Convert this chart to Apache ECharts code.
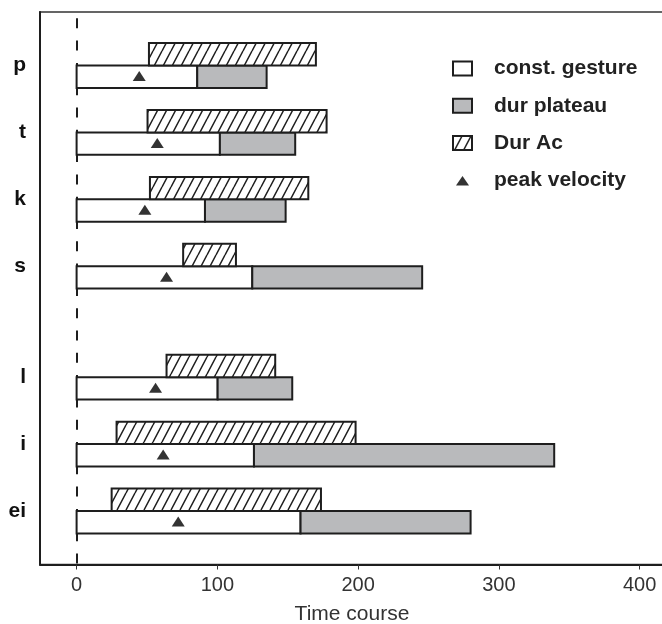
<!DOCTYPE html>
<html><head><meta charset="utf-8">
<script src="https://cdn.jsdelivr.net/npm/echarts@6/dist/echarts.min.js"></script>
<style>html,body{margin:0;padding:0;background:#fff}#c{width:662px;height:624px}</style>
</head><body><div id="c"></div>
<script>
// ---- data ----
const categories = ['p', 't', 'k', 's', 'l', 'i', 'ei'];
const rowPos     = [0, 1, 2, 3, 4.66, 5.66, 6.66];
const gestureEnd = [85.7, 101.8, 91.2, 124.8, 100.2, 126.0, 159.1];
const plateauEnd = [135.0, 155.3, 148.5, 245.5, 153.2, 339.3, 279.9];
const acStart    = [51.4, 50.4, 52.1, 75.7, 63.9, 28.4, 24.9];
const acEnd      = [170.0, 177.6, 164.6, 113.2, 141.1, 198.2, 173.6];
const peakVel    = [44.5, 57.3, 48.5, 63.9, 56.1, 61.5, 72.2];
const xTicks     = [0, 100, 200, 300, 400];
const seriesNames = ['const. gesture', 'dur plateau', 'Dur Ac', 'peak velocity'];

// ---- styles ----
const BAR_H = 0.335;
const INK = '#1e1e1e';
const GRAY = '#b9babc';
const FONT = '"Liberation Sans", Arial, Helvetica, sans-serif';

const hatch = document.createElement('canvas');
hatch.width = 9; hatch.height = 17;
(function () {
  const g = hatch.getContext('2d');
  g.fillStyle = '#fff'; g.fillRect(0, 0, 9, 17);
  g.strokeStyle = '#1e1e1e'; g.lineWidth = 1.5;
  g.beginPath();
  g.moveTo(0, 17); g.lineTo(9, 0);
  g.moveTo(-9, 17); g.lineTo(0, 0);
  g.moveTo(9, 17); g.lineTo(18, 0);
  g.stroke();
})();
const hatchFill = { image: hatch, repeat: 'repeat' };

function makeRender(upper, fill) {
  return function (params, api) {
    const y = api.value(2);
    const a = api.coord([api.value(0), y]);
    const b = api.coord([api.value(1), y]);
    const h = Math.abs(api.size([0, BAR_H])[1]);
    return {
      type: 'rect',
      shape: { x: a[0], y: upper ? a[1] - h : a[1], width: b[0] - a[0], height: h },
      style: { fill: fill, stroke: INK, lineWidth: 2 }
    };
  };
}

const chart = echarts.init(document.getElementById('c'), null, { renderer: 'canvas' });
chart.setOption({
  animation: false,
  backgroundColor: '#fff',
  textStyle: { fontFamily: FONT },
  grid: {
    left: 40, top: 12, width: 624, height: 552.5,
    show: true, borderColor: '#333', borderWidth: 1.5, backgroundColor: 'transparent',
    containLabel: false, outerBoundsMode: 'none'
  },
  legend: {
    orient: 'vertical', left: 452, top: 58, padding: 0,
    itemWidth: 19, itemHeight: 14, itemGap: 16.3,
    textStyle: { fontSize: 21, fontWeight: 'bold', color: '#222', lineHeight: 21, padding: [0, 0, 0, 17], fontFamily: FONT },
    data: [
      { name: seriesNames[0], icon: 'rect', itemStyle: { color: '#fff', borderColor: INK, borderWidth: 2 } },
      { name: seriesNames[1], icon: 'rect', itemStyle: { color: GRAY, borderColor: INK, borderWidth: 2 } },
      { name: seriesNames[2], icon: 'rect', itemStyle: { color: hatchFill, borderColor: INK, borderWidth: 2 } },
      { name: seriesNames[3], icon: 'path://M0,0M19,14M3,12L9.5,2.5L16,12Z', itemStyle: { color: '#000', borderWidth: 0 } }
    ]
  },
  xAxis: {
    type: 'value', min: -26, max: 417.3,
    name: 'Time course', nameLocation: 'middle', nameGap: 39,
    nameTextStyle: { fontSize: 21, color: '#333', fontFamily: FONT },
    axisLine: { show: true, onZero: false, lineStyle: { color: INK, width: 2 } },
    axisTick: { show: true, customValues: xTicks, length: 5, lineStyle: { color: '#333', width: 1 } },
    axisLabel: { customValues: xTicks, fontSize: 20, color: '#333', margin: 11, fontFamily: FONT },
    splitLine: { show: false }
  },
  yAxis: {
    type: 'value', inverse: true, min: -0.8, max: 7.46,
    axisLine: { show: true, onZero: false, lineStyle: { color: INK, width: 2 } },
    axisTick: { show: false },
    splitLine: { show: false },
    axisLabel: {
      customValues: rowPos, fontSize: 21, fontWeight: 'bold', color: '#111', margin: 14, fontFamily: FONT,
      formatter: function (v) {
        const i = rowPos.findIndex(p => Math.abs(p - v) < 1e-6);
        return i >= 0 ? categories[i] : '';
      }
    }
  },
  series: [
    {
      name: seriesNames[0], type: 'custom', z: 3,
      itemStyle: { color: '#fff', borderColor: INK },
      renderItem: makeRender(false, '#fff'),
      encode: { x: [0, 1], y: 2 },
      data: categories.map((c, i) => [0, gestureEnd[i], rowPos[i]]),
      markLine: {
        silent: true, symbol: ['none', 'none'], label: { show: false }, z: 1,
        lineStyle: { type: [10, 12.3], dashOffset: 16, color: INK, width: 2 },
        data: [{ xAxis: 0 }]
      }
    },
    {
      name: seriesNames[1], type: 'custom', z: 3,
      itemStyle: { color: GRAY, borderColor: INK },
      renderItem: makeRender(false, GRAY),
      encode: { x: [0, 1], y: 2 },
      data: categories.map((c, i) => [gestureEnd[i], plateauEnd[i], rowPos[i]])
    },
    {
      name: seriesNames[2], type: 'custom', z: 3,
      itemStyle: { color: '#fff', borderColor: INK },
      renderItem: makeRender(true, hatchFill),
      encode: { x: [0, 1], y: 2 },
      data: categories.map((c, i) => [acStart[i], acEnd[i], rowPos[i]])
    },
    {
      name: seriesNames[3], type: 'scatter', z: 5,
      symbol: 'triangle', symbolSize: [13, 10], symbolOffset: [0, 10.5],
      itemStyle: { color: '#000' },
      data: categories.map((c, i) => [peakVel[i], rowPos[i]])
    }
  ]
});
</script>
</body></html>
